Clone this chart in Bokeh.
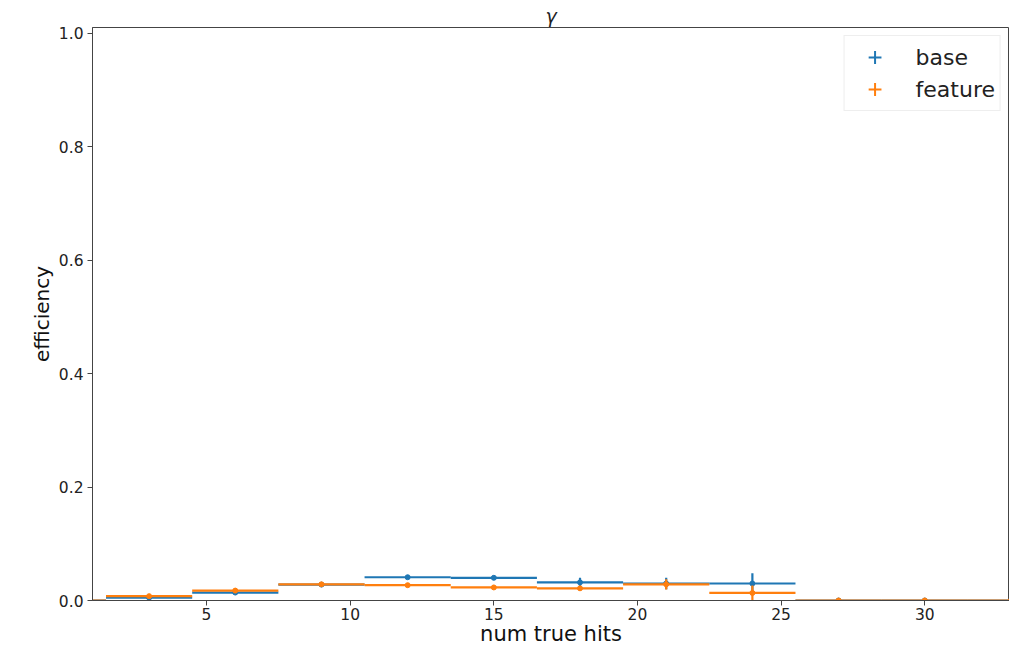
import numpy as np
from bokeh.plotting import figure
from bokeh.models import Range1d, ColumnDataSource, Legend, LegendItem, FixedTicker, CustomJSTickFormatter
from bokeh.embed import file_html
from bokeh.resources import INLINE

# ---- data ----
bin_centers = [0, 3, 6, 9, 12, 15, 18, 21, 24, 27, 30, 33]
bin_half_width = 1.5
base_eff = [0.0, 0.005, 0.014, 0.028, 0.041, 0.040, 0.032, 0.030, 0.030, 0.0, 0.0, 0.0]
base_err = [0.0, 0.003, 0.003, 0.003, 0.003, 0.003, 0.008, 0.010, 0.018, 0.0, 0.0, 0.0]
feature_eff = [0.0, 0.0076, 0.0175, 0.0285, 0.027, 0.023, 0.0215, 0.0285, 0.0134, 0.0, 0.0, 0.0]
feature_err = [0.0, 0.003, 0.004, 0.003, 0.003, 0.003, 0.004, 0.009, 0.013, 0.0, 0.0, 0.0]
series_names = ["base", "feature"]
colors = ["#1f77b4", "#ff7f0e"]
x_ticks = [5, 10, 15, 20, 25, 30]
y_ticks = [0.0, 0.2, 0.4, 0.6, 0.8, 1.0]

FONT = "DejaVu Sans"

p = figure(width=1009, height=648, output_backend="svg", toolbar_location=None,
           x_range=Range1d(1.03, 32.95), y_range=Range1d(0, 1.0097),
           min_border_left=92, min_border_right=0, min_border_top=27, min_border_bottom=48,
           title="γ")
p.title.align = "center"
p.title.text_font = FONT
p.title.text_font_style = "italic"
p.title.text_font_size = "19px"
p.title.text_color = "#222222"
p.title.standoff = 2
p.title.offset = 0

p.grid.visible = False
p.outline_line_color = "#444444"
p.outline_line_width = 1

for ax in (p.xaxis[0], p.yaxis[0]):
    ax.axis_line_color = "#444444"
    ax.major_tick_line_color = "#444444"
    ax.minor_tick_line_color = None
    ax.major_tick_out = 5
    ax.major_tick_in = 0
    ax.major_label_text_font = FONT
    ax.major_label_text_font_size = "15.5px"
    ax.major_label_text_color = "#222222"
    ax.axis_label_text_font = FONT
    ax.axis_label_text_font_style = "normal"
    ax.axis_label_text_color = "#111111"
    ax.major_label_standoff = 4

p.xaxis.major_label_standoff = 2
p.xaxis.axis_label_text_font_size = "21px"
p.yaxis.axis_label_text_font_size = "20px"
p.xaxis.ticker = FixedTicker(ticks=x_ticks)
p.yaxis.ticker = FixedTicker(ticks=y_ticks)
p.yaxis.formatter = CustomJSTickFormatter(code="return tick.toFixed(1);")
p.xaxis.axis_label = "num true hits"
p.yaxis.axis_label = "efficiency"
p.xaxis.axis_label_standoff = -1
p.yaxis.axis_label_standoff = 2

items = []
for name, eff, err, col in zip(series_names, [base_eff, feature_eff], [base_err, feature_err], colors):
    x = np.array(bin_centers, dtype=float)
    y = np.array(eff)
    e = np.array(err)
    src = ColumnDataSource(dict(x=x, y=y, x0=x - bin_half_width, x1=x + bin_half_width,
                                y0=y - e, y1=y + e))
    p.segment(x0="x0", y0="y", x1="x1", y1="y", source=src, line_color=col, line_width=2.2)
    p.segment(x0="x", y0="y0", x1="x", y1="y1", source=src, line_color=col, line_width=2.2)
    p.scatter(x="x", y="y", source=src, size=5, marker="circle", fill_color=col, line_color=col)
    lg = p.scatter(x=[np.nan], y=[np.nan], marker="cross", size=14, line_color=col, line_width=2)
    items.append(LegendItem(label=name, renderers=[lg]))

legend = Legend(items=items, location="top_right", margin=8,
                label_text_font=FONT, label_text_font_size="22px", label_text_color="#222222",
                glyph_width=50, glyph_height=32, label_height=32, spacing=0,
                padding=5, label_standoff=16,
                border_line_color="#dddddd", border_line_width=1,
                background_fill_alpha=0.9)
p.add_layout(legend)

open("out.html", "w").write(file_html(p, INLINE))
